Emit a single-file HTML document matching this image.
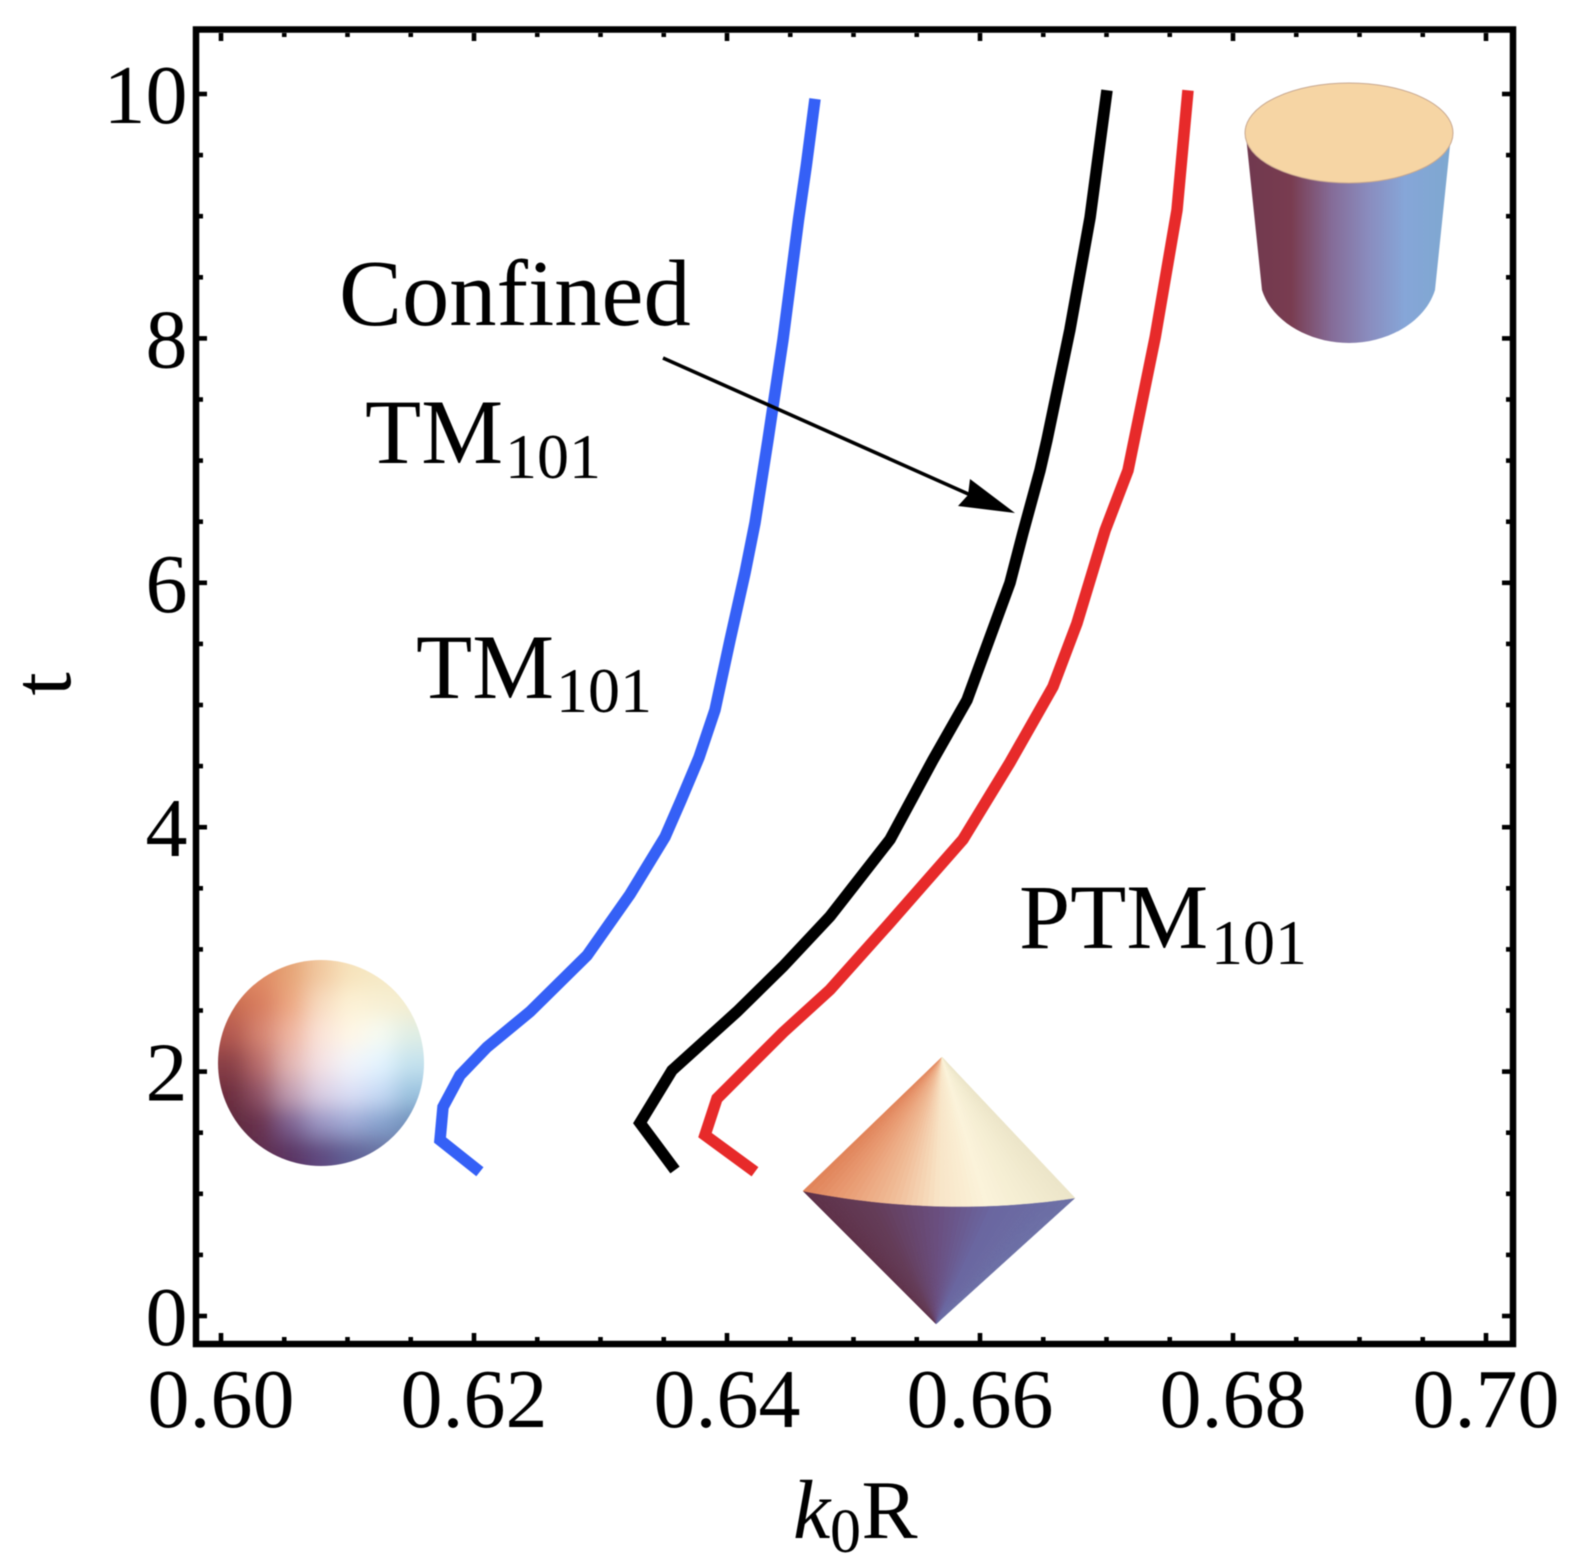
<!DOCTYPE html>
<html lang="en">
<head>
<meta charset="utf-8">
<title>Resonance curves: t versus k0R</title>
<style>
html,body{margin:0;padding:0;background:#fff;width:1574px;height:1568px;overflow:hidden}
svg{display:block;filter:blur(0.55px)}
text{font-family:"Liberation Serif",serif;fill:#000}
</style>
</head>
<body>
<svg id="chart" xmlns="http://www.w3.org/2000/svg" width="1574" height="1568" viewBox="0 0 1574 1568">
  <defs>
    <clipPath id="sphereClip"><circle cx="321" cy="1063" r="103"/></clipPath>
    <filter id="sphereBlur" filterUnits="userSpaceOnUse" x="150" y="890" width="340" height="340">
      <feGaussianBlur stdDeviation="11"/>
    </filter>
    <linearGradient id="cylSide" gradientUnits="userSpaceOnUse" x1="1246" y1="0" x2="1450" y2="0">
      <stop offset="0" stop-color="#70394f"/>
      <stop offset="0.22" stop-color="#793c50"/>
      <stop offset="0.42" stop-color="#856c98"/>
      <stop offset="0.6" stop-color="#8a8cbe"/>
      <stop offset="0.78" stop-color="#86a6d8"/>
      <stop offset="1" stop-color="#7ea8d0"/>
    </linearGradient>
  </defs>

  <g id="ticks"></g>
  <rect x="196" y="29.5" width="1317" height="1314.5" fill="none" stroke="#000" stroke-width="6.5"/>
  <g id="tick-labels"></g>

  <g clip-path="url(#sphereClip)">
    <g id="sphere-cells" filter="url(#sphereBlur)"></g>
  </g>

  <g>
    <path d="M1246 136 L1262 290 C1272 322 1310 343 1349 343 C1388 343 1425 322 1435 290 L1451 136 Z" fill="url(#cylSide)"/>
    <ellipse cx="1349" cy="133" rx="104" ry="50" fill="#f6d5a4" stroke="#c8a890" stroke-width="1"/>
  </g>

  <g id="bicone"></g>

  <g id="series"></g>

  <g>
    <line x1="663" y1="358" x2="975" y2="497" stroke="#000" stroke-width="3.6"/>
    <polygon points="1015,513 970,479 968,495 958,506" fill="#000"/>
  </g>

  <text x="339" y="325" font-size="94.5">Confined</text>
  <text x="365" y="463" font-size="92">TM<tspan x="505" y="478" font-size="64">101</tspan></text>
  <text x="416" y="698" font-size="92">TM<tspan x="556" y="712" font-size="64">101</tspan></text>
  <text x="1019" y="948" font-size="92">PTM<tspan x="1211" y="964" font-size="64">101</tspan></text>

  <text transform="translate(70 684) rotate(-90)" text-anchor="middle" font-size="84">t</text>
  <text x="793" y="1538" font-size="84"><tspan font-style="italic">k</tspan><tspan x="830" y="1552" font-size="62">0</tspan><tspan x="861.5" y="1538">R</tspan></text>
</svg>

<script>
const xTickValues = [0.60, 0.62, 0.64, 0.66, 0.68, 0.70];
const xTickLabels = ["0.60", "0.62", "0.64", "0.66", "0.68", "0.70"];
const yTickValues = [0, 2, 4, 6, 8, 10];
const yTickLabels = ["0", "2", "4", "6", "8", "10"];
const xMinorStep = 0.005;
const yMinorStep = 0.5;

const blueK = [0.62047, 0.61731, 0.61755, 0.61889, 0.62103, 0.62443, 0.62893, 0.63233, 0.63510, 0.63636, 0.63779, 0.63905, 0.64024, 0.64142, 0.64221, 0.64324, 0.64443, 0.64565, 0.64628, 0.64696];
const blueT = [1.18, 1.44, 1.71, 1.97, 2.20, 2.49, 2.95, 3.45, 3.92, 4.22, 4.57, 4.96, 5.53, 6.08, 6.49, 7.17, 7.99, 8.97, 9.42, 9.96];

const blackK = [0.63589, 0.63312, 0.63565, 0.64079, 0.64443, 0.64814, 0.65289, 0.65628, 0.65897, 0.66237, 0.66340, 0.66474, 0.66530, 0.66711, 0.66870, 0.67004];
const blackT = [1.195, 1.58, 2.01, 2.49, 2.86, 3.27, 3.90, 4.55, 5.04, 6.00, 6.41, 6.92, 7.17, 8.07, 8.99, 10.03];

const redK = [0.64221, 0.63826, 0.63921, 0.64443, 0.64814, 0.65272, 0.65866, 0.66237, 0.66577, 0.66767, 0.66989, 0.67170, 0.67385, 0.67557, 0.67644];
const redT = [1.18, 1.48, 1.78, 2.32, 2.67, 3.20, 3.90, 4.53, 5.15, 5.67, 6.43, 6.92, 8.01, 9.05, 10.03];

const seriesNames = ["blue-curve", "black-curve", "red-curve"];
const seriesColors = ["#3560f6", "#000000", "#e72a2a"];
const seriesK = [blueK, blackK, redK];
const seriesT = [blueT, blackT, redT];

const SVGNS = "http://www.w3.org/2000/svg";
function xScale(v) { return 221 + (v - 0.60) * 12650; }
function yScale(v) { return 1316 - v * 122.2; }

const frameLeft = 199, frameRight = 1510, frameTop = 33, frameBottom = 1341;
const tickGroup = document.getElementById("ticks");
const labelGroup = document.getElementById("tick-labels");
const seriesGroup = document.getElementById("series");

function addTick(x1, y1, x2, y2, name) {
  const el = document.createElementNS(SVGNS, "line");
  el.setAttribute("x1", x1);
  el.setAttribute("y1", y1);
  el.setAttribute("x2", x2);
  el.setAttribute("y2", y2);
  el.setAttribute("stroke", "#000");
  el.setAttribute("stroke-width", "4.6");
  
  
  tickGroup.appendChild(el);
}

const majorLen = 8, minorLen = 4;

const xSteps = Math.round((0.70 - 0.60) / xMinorStep);
for (let i = 0; i <= xSteps; i++) {
  const major = i % 4 === 0;
  const len = major ? majorLen : minorLen;
  const x = xScale(0.60 + i * xMinorStep);
  addTick(x, frameBottom, x, frameBottom - len, major ? "x-major-tick" : "x-minor-tick");
  addTick(x, frameTop, x, frameTop + len, major ? "x-major-tick-top" : "x-minor-tick-top");
}

const ySteps = Math.round(10 / yMinorStep);
for (let i = 0; i <= ySteps; i++) {
  const major = i % 4 === 0;
  const len = major ? majorLen : minorLen;
  const y = yScale(i * yMinorStep);
  addTick(frameLeft, y, frameLeft + len, y, major ? "y-major-tick" : "y-minor-tick");
  addTick(frameRight, y, frameRight - len, y, major ? "y-major-tick-right" : "y-minor-tick-right");
}

xTickValues.forEach(function (v, i) {
  const t = document.createElementNS(SVGNS, "text");
  t.setAttribute("x", xScale(v));
  t.setAttribute("y", 1427);
  t.setAttribute("text-anchor", "middle");
  t.setAttribute("font-size", "84");
  
  
  t.textContent = xTickLabels[i];
  labelGroup.appendChild(t);
});

yTickValues.forEach(function (v, i) {
  const t = document.createElementNS(SVGNS, "text");
  t.setAttribute("x", 187.5);
  t.setAttribute("y", yScale(v) + 29);
  t.setAttribute("text-anchor", "end");
  t.setAttribute("font-size", "84");
  
  
  t.textContent = yTickLabels[i];
  labelGroup.appendChild(t);
});

seriesK.forEach(function (ks, s) {
  const ts = seriesT[s];
  const d = ks.map(function (k, i) {
    return (i ? "L" : "M") + xScale(k).toFixed(1) + " " + yScale(ts[i]).toFixed(1);
  }).join(" ");
  const p = document.createElementNS(SVGNS, "path");
  p.setAttribute("d", d);
  p.setAttribute("fill", "none");
  p.setAttribute("stroke", seriesColors[s]);
  p.setAttribute("stroke-width", "11.5");
  p.setAttribute("stroke-linejoin", "miter");
  p.setAttribute("stroke-linecap", "butt");
  
  
  seriesGroup.appendChild(p);
});

/* Sphere shading: a coarse colour grid, blurred and clipped to the circle */
const sphereRows = [
  ["#e08a64", "#e08a64", "#e6a577", "#f2c9a0", "#f7e3bc", "#f5e8c4", "#f3e6c4"],
  ["#c86a50", "#d97e5e", "#eda882", "#f8dcc0", "#fdf2d6", "#f8f0d4", "#f4eed0"],
  ["#b4594f", "#d78672", "#f0b6a0", "#fbe4d8", "#fff7e6", "#f6fbf2", "#e0eee4"],
  ["#8a3f47", "#bd6f6e", "#e4b8b4", "#f4e2e4", "#f2f4fa", "#e4f4ff", "#c4e2ee"],
  ["#6e2e40", "#94566a", "#c4a0b4", "#dcd0e4", "#dce0f6", "#c8dcf6", "#9cc4e0"],
  ["#5e2a3e", "#6a3050", "#7f6494", "#9c98c6", "#a0acd8", "#88a4d0", "#6f90bc"],
  ["#5e2a3e", "#5e2e50", "#5c3664", "#5e4a80", "#5e5e94", "#6670a0", "#6f80a8"]
];
const sphereGroup = document.getElementById("sphere-cells");
const sphereCell = 206 / 7;
sphereRows.forEach(function (row, r) {
  row.forEach(function (color, c) {
    const pad = 40;
    const rect = document.createElementNS(SVGNS, "rect");
    rect.setAttribute("x", 218 + c * sphereCell - (c === 0 ? pad : 0));
    rect.setAttribute("y", 960 + r * sphereCell - (r === 0 ? pad : 0));
    rect.setAttribute("width", sphereCell + 0.5 + (c === 0 || c === 6 ? pad : 0));
    rect.setAttribute("height", sphereCell + 0.5 + (r === 0 || r === 6 ? pad : 0));
    rect.setAttribute("fill", color);
    
    
    sphereGroup.appendChild(rect);
  });
});

/* Bicone shading: conical fans of slices from each apex to the shared rim */
const coneTopStops = [[0, "#e08258"], [0.17, "#eaa078"], [0.33, "#f0bd98"], [0.5, "#f8e5c8"], [0.68, "#fbf3da"], [1, "#ece5c8"]];
const coneBottomStops = [[0, "#5e3048"], [0.25, "#643c58"], [0.5, "#6a4f80"], [0.7, "#6a66a0"], [1, "#6c70a6"]];
const biconeGroup = document.getElementById("bicone");

function hexToRgb(h) {
  return [parseInt(h.slice(1, 3), 16), parseInt(h.slice(3, 5), 16), parseInt(h.slice(5, 7), 16)];
}
function stopColor(stops, t) {
  for (let i = 1; i < stops.length; i++) {
    if (t <= stops[i][0]) {
      const f = (t - stops[i - 1][0]) / (stops[i][0] - stops[i - 1][0]);
      const a = hexToRgb(stops[i - 1][1]);
      const b = hexToRgb(stops[i][1]);
      return "rgb(" + a.map(function (v, j) { return Math.round(v + (b[j] - v) * f); }).join(",") + ")";
    }
  }
  return stops[stops.length - 1][1];
}
function rimPoint(t) {
  const u = 1 - t;
  return [u * u * 803 + 2 * u * t * 940 + t * t * 1075, u * u * 1191 + 2 * u * t * 1218 + t * t * 1198];
}
function addFan(apexX, apexY, stops, name) {
  const slices = 48;
  for (let i = 0; i < slices; i++) {
    const a = rimPoint(i / slices);
    const b = rimPoint((i + 1) / slices);
    const color = stopColor(stops, (i + 0.5) / slices);
    const poly = document.createElementNS(SVGNS, "polygon");
    poly.setAttribute("points", apexX + "," + apexY + " " + a[0].toFixed(1) + "," + a[1].toFixed(1) + " " + b[0].toFixed(1) + "," + b[1].toFixed(1));
    poly.setAttribute("fill", color);
    poly.setAttribute("stroke", color);
    poly.setAttribute("stroke-width", "0.5");
    
    
    biconeGroup.appendChild(poly);
  }
}
addFan(936, 1324, coneBottomStops, "bicone-lower-slice");
addFan(942, 1057, coneTopStops, "bicone-upper-slice");
</script>
</body>
</html>
